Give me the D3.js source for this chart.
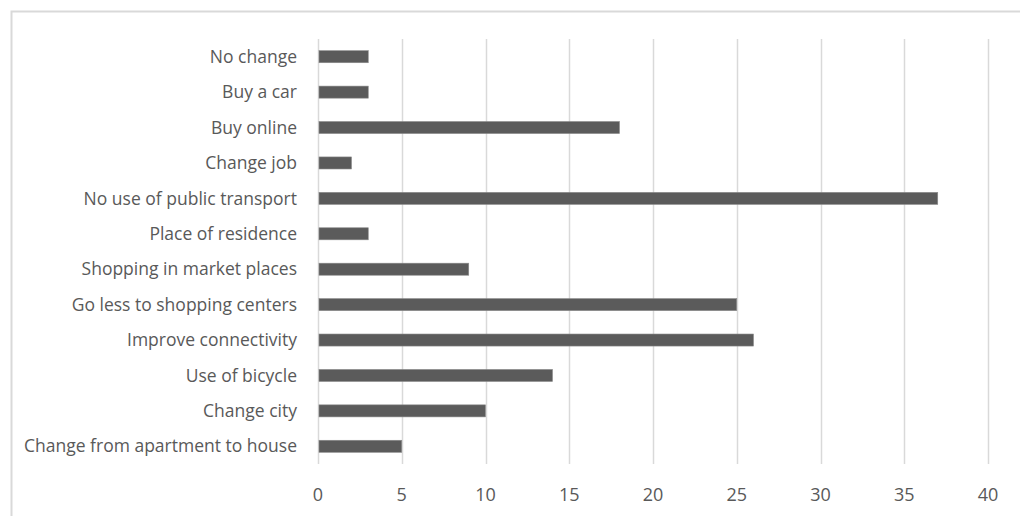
<!DOCTYPE html>
<html>
<head>
<meta charset="utf-8">
<script src="https://cdn.jsdelivr.net/npm/d3@7.9.0/dist/d3.min.js"></script>
<style>
  body { margin: 0; background: #fff; }
  svg { display: block; }
  text { font-family: "Open Sans", sans-serif; fill: #595959; }
</style>
</head>
<body>
<svg id="chart" width="1020" height="516"></svg>
<script>
const categories = [
  'No change',
  'Buy a car',
  'Buy online',
  'Change job',
  'No use of public transport',
  'Place of residence',
  'Shopping in market places',
  'Go less to shopping centers',
  'Improve connectivity',
  'Use of bicycle',
  'Change city',
  'Change from apartment to house'
];
const values = [3, 3, 18, 2, 37, 3, 9, 25, 26, 14, 10, 5];
const xTicks = [0, 5, 10, 15, 20, 25, 30, 35, 40];

const svg = d3.select('#chart');

// outer chart border (cropped at right and bottom like the original)
svg.append('rect')
  .attr('x', 11.5).attr('y', 11.5)
  .attr('width', 1030).attr('height', 520)
  .attr('fill', 'none')
  .attr('stroke', '#d9d9d9')
  .attr('stroke-width', 2);

const plotLeft = 318, plotRight = 988, plotTop = 39, plotBottom = 464;

const x = d3.scaleLinear().domain([0, 40]).range([plotLeft, plotRight]);
const y = d3.scaleBand().domain(categories).range([plotTop, plotBottom]).paddingInner(0.66).paddingOuter(0.33);

// gridlines
svg.append('g')
  .selectAll('line')
  .data(xTicks)
  .join('line')
  .attr('x1', d => Math.round(x(d)) + 0.5)
  .attr('x2', d => Math.round(x(d)) + 0.5)
  .attr('y1', plotTop)
  .attr('y2', plotBottom)
  .attr('stroke', '#d9d9d9')
  .attr('stroke-width', 1.5);

// bars
svg.append('g')
  .selectAll('rect')
  .data(values)
  .join('rect')
  .attr('x', x(0) + 1)
  .attr('y', (d, i) => y(categories[i]))
  .attr('width', d => x(d) - x(0) - 1)
  .attr('height', y.bandwidth())
  .attr('fill', '#5b5b5b')
  .attr('stroke', '#8a8a8a')
  .attr('stroke-width', 0.6);

// category labels
svg.append('g')
  .selectAll('text')
  .data(categories)
  .join('text')
  .attr('x', plotLeft - 21)
  .attr('y', d => y(d) + y.bandwidth() / 2)
  .attr('dy', '0.35em')
  .attr('text-anchor', 'end')
  .attr('font-size', 17.5)
  .text(d => d);

// x tick labels
svg.append('g')
  .selectAll('text')
  .data(xTicks)
  .join('text')
  .attr('x', d => x(d))
  .attr('y', 495)
  .attr('dy', '0.35em')
  .attr('text-anchor', 'middle')
  .attr('font-size', 18)
  .text(d => d);
</script>
</body>
</html>
